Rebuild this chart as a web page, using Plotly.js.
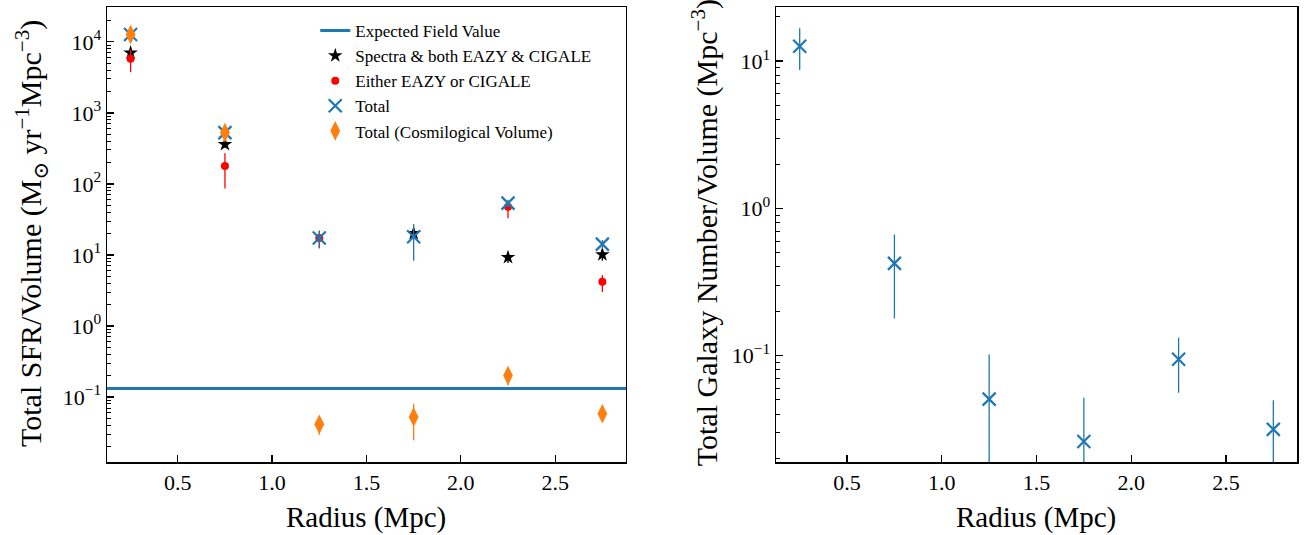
<!DOCTYPE html>
<html>
<head>
<meta charset="utf-8">
<script src="https://cdn.plot.ly/plotly-3.0.1.min.js"></script>
<style>html,body{margin:0;padding:0;background:#fff;}#chart{width:1307px;height:535px;}</style>
</head>
<body>
<div id="chart"></div>
<script>
// ---- data ----
const radius = [0.25, 0.75, 1.25, 1.75, 2.25, 2.75];

const fieldValue = 0.132;

const sfrSpecBoth      = [7000, 361, null, 20.1, 9.25, 10.1];
const sfrSpecBothPlus  = [800, 40, null, 2.5, 1.65, 2.0];
const sfrSpecBothMinus = [800, 40, null, 2.5, 1.55, 1.8];

const sfrEither      = [5770, 179, 17.3, null, 47.6, 4.2];
const sfrEitherPlus  = [2000, 91, 4.6, null, 6, 1.0];
const sfrEitherMinus = [2030, 93, 4.9, null, 14.9, 1.2];

const sfrTotal      = [12700, 527, 17.3, 18.0, 53.6, 14.2];
const sfrTotalPlus  = [1500, 60, 4.6, 9.2, 6, 2];
const sfrTotalMinus = [1500, 60, 4.9, 9.7, 6, 2];

const sfrCosmo      = [12700, 527, 0.0412, 0.0524, 0.2005, 0.0582];
const sfrCosmoPlus  = [1500, 60, 0.009, 0.028, 0.02, 0.006];
const sfrCosmoMinus = [1500, 60, 0.0117, 0.0278, 0.0555, 0.006];

const numDensity      = [12.6, 0.423, 0.0507, 0.0261, 0.0944, 0.0316];
const numDensityPlus  = [4.1, 0.242, 0.051, 0.0257, 0.038, 0.0182];
const numDensityMinus = [3.9, 0.244, 0.0502, 0.0259, 0.0384, 0.0313];

const xTickVals = [0.5, 1.0, 1.5, 2.0, 2.5];
const xTickText = ['0.5', '1.0', '1.5', '2.0', '2.5'];
const yLeftTickVals = [0.1, 1, 10, 100, 1000, 10000];
const yLeftTickText = ['10<sup>−1</sup>', '10<sup>0</sup>', '10<sup>1</sup>', '10<sup>2</sup>', '10<sup>3</sup>', '10<sup>4</sup>'];
const yRightTickVals = [0.1, 1, 10];
const yRightTickText = ['10<sup>−1</sup>', '10<sup>0</sup>', '10<sup>1</sup>'];

const xRange = [0.125, 2.875];

// ---- styling ----
const FONT = '"Liberation Serif", "DejaVu Serif", serif';
const blue = '#1f77b4', orange = '#ff7f0e';

function err(plus, minus, color) {
  return {type: 'data', symmetric: false, array: plus, arrayminus: minus,
          color: color, thickness: 1.3, width: 0};
}

const traces = [
  {x: xRange, y: [fieldValue, fieldValue], mode: 'lines', name: 'Expected Field Value',
   line: {color: blue, width: 3}, xaxis: 'x', yaxis: 'y'},
  {x: radius, y: sfrSpecBoth, mode: 'markers', name: 'Spectra &amp; both EAZY &amp; CIGALE',
   marker: {symbol: 'star', size: 11, color: 'black'},
   error_y: err(sfrSpecBothPlus, sfrSpecBothMinus, 'black'), xaxis: 'x', yaxis: 'y'},
  {x: radius, y: sfrEither, mode: 'markers', name: 'Either EAZY or CIGALE',
   marker: {symbol: 'circle', size: 8, color: 'red'},
   error_y: err(sfrEitherPlus, sfrEitherMinus, 'red'), xaxis: 'x', yaxis: 'y'},
  {x: radius, y: sfrTotal, mode: 'markers', name: 'Total',
   marker: {symbol: 'x-thin', size: 13, line: {color: blue, width: 2.2}, color: blue},
   error_y: err(sfrTotalPlus, sfrTotalMinus, blue), xaxis: 'x', yaxis: 'y'},
  {x: radius, y: sfrCosmo, mode: 'markers', name: 'Total (Cosmilogical Volume)',
   marker: {symbol: 'diamond-tall', size: 14, color: orange},
   error_y: err(sfrCosmoPlus, sfrCosmoMinus, orange), xaxis: 'x', yaxis: 'y'},
  {x: radius, y: numDensity, mode: 'markers', name: 'Total', showlegend: false,
   marker: {symbol: 'x-thin', size: 13, line: {color: blue, width: 2.2}, color: blue},
   error_y: err(numDensityPlus, numDensityMinus, blue), xaxis: 'x2', yaxis: 'y2'}
];

const axisCommon = {
  showgrid: false, zeroline: false, showline: true, linecolor: 'black', linewidth: 1.5,
  mirror: true, ticks: 'inside', ticklen: 7, tickwidth: 1.3, tickcolor: 'black',
  tickfont: {family: FONT, size: 22, color: 'black'}
};

const minorLog = {dtick: 'D1', ticks: 'inside', ticklen: 4, tickwidth: 1, tickcolor: 'black', showgrid: false};

const layout = {
  width: 1307, height: 535,
  margin: {l: 107, r: 10, t: 7, b: 73},
  paper_bgcolor: 'white', plot_bgcolor: 'white',
  showlegend: true,
  legend: {x: 0.175, y: 0.987, xanchor: 'left', yanchor: 'top', bgcolor: 'rgba(0,0,0,0)',
           font: {family: FONT, size: 17, color: 'black'}, tracegroupgap: 0},
  xaxis: Object.assign({}, axisCommon, {domain: [0, 0.4361], range: xRange,
           tickvals: xTickVals, ticktext: xTickText, anchor: 'y'}),
  yaxis: Object.assign({}, axisCommon, {type: 'log', range: [-1.915, 4.49],
           tickvals: yLeftTickVals, ticktext: yLeftTickText, minor: minorLog, anchor: 'x'}),
  xaxis2: Object.assign({}, axisCommon, {domain: [0.5622, 1], range: xRange,
           tickvals: xTickVals, ticktext: xTickText, anchor: 'y2'}),
  yaxis2: Object.assign({}, axisCommon, {type: 'log', range: [-1.722, 1.367],
           tickvals: yRightTickVals, ticktext: yRightTickText, minor: minorLog, anchor: 'x2'}),
  annotations: [
    {text: 'Radius (Mpc)', xref: 'paper', yref: 'paper', x: 0.218, y: -0.121, showarrow: false,
     xanchor: 'center', yanchor: 'middle', font: {family: FONT, size: 29, color: 'black'}},
    {text: 'Radius (Mpc)', xref: 'paper', yref: 'paper', x: 0.781, y: -0.121, showarrow: false,
     xanchor: 'center', yanchor: 'middle', font: {family: FONT, size: 29, color: 'black'}},
    {text: 'Total SFR/Volume (M<sub>⊙</sub> yr<sup>−1</sup>Mpc<sup>−3</sup>)', xref: 'paper', yref: 'paper',
     x: -0.064, y: 0.503, textangle: -90, showarrow: false, xanchor: 'center', yanchor: 'middle',
     font: {family: FONT, size: 30, color: 'black'}},
    {text: 'Total Galaxy Number/Volume (Mpc<sup>−3</sup>)', xref: 'paper', yref: 'paper',
     x: 0.5025, y: 0.505, textangle: -90, showarrow: false, xanchor: 'center', yanchor: 'middle',
     font: {family: FONT, size: 30, color: 'black'}}
  ]
};

Plotly.newPlot('chart', traces, layout, {displayModeBar: false, staticPlot: true});
</script>
</body>
</html>
